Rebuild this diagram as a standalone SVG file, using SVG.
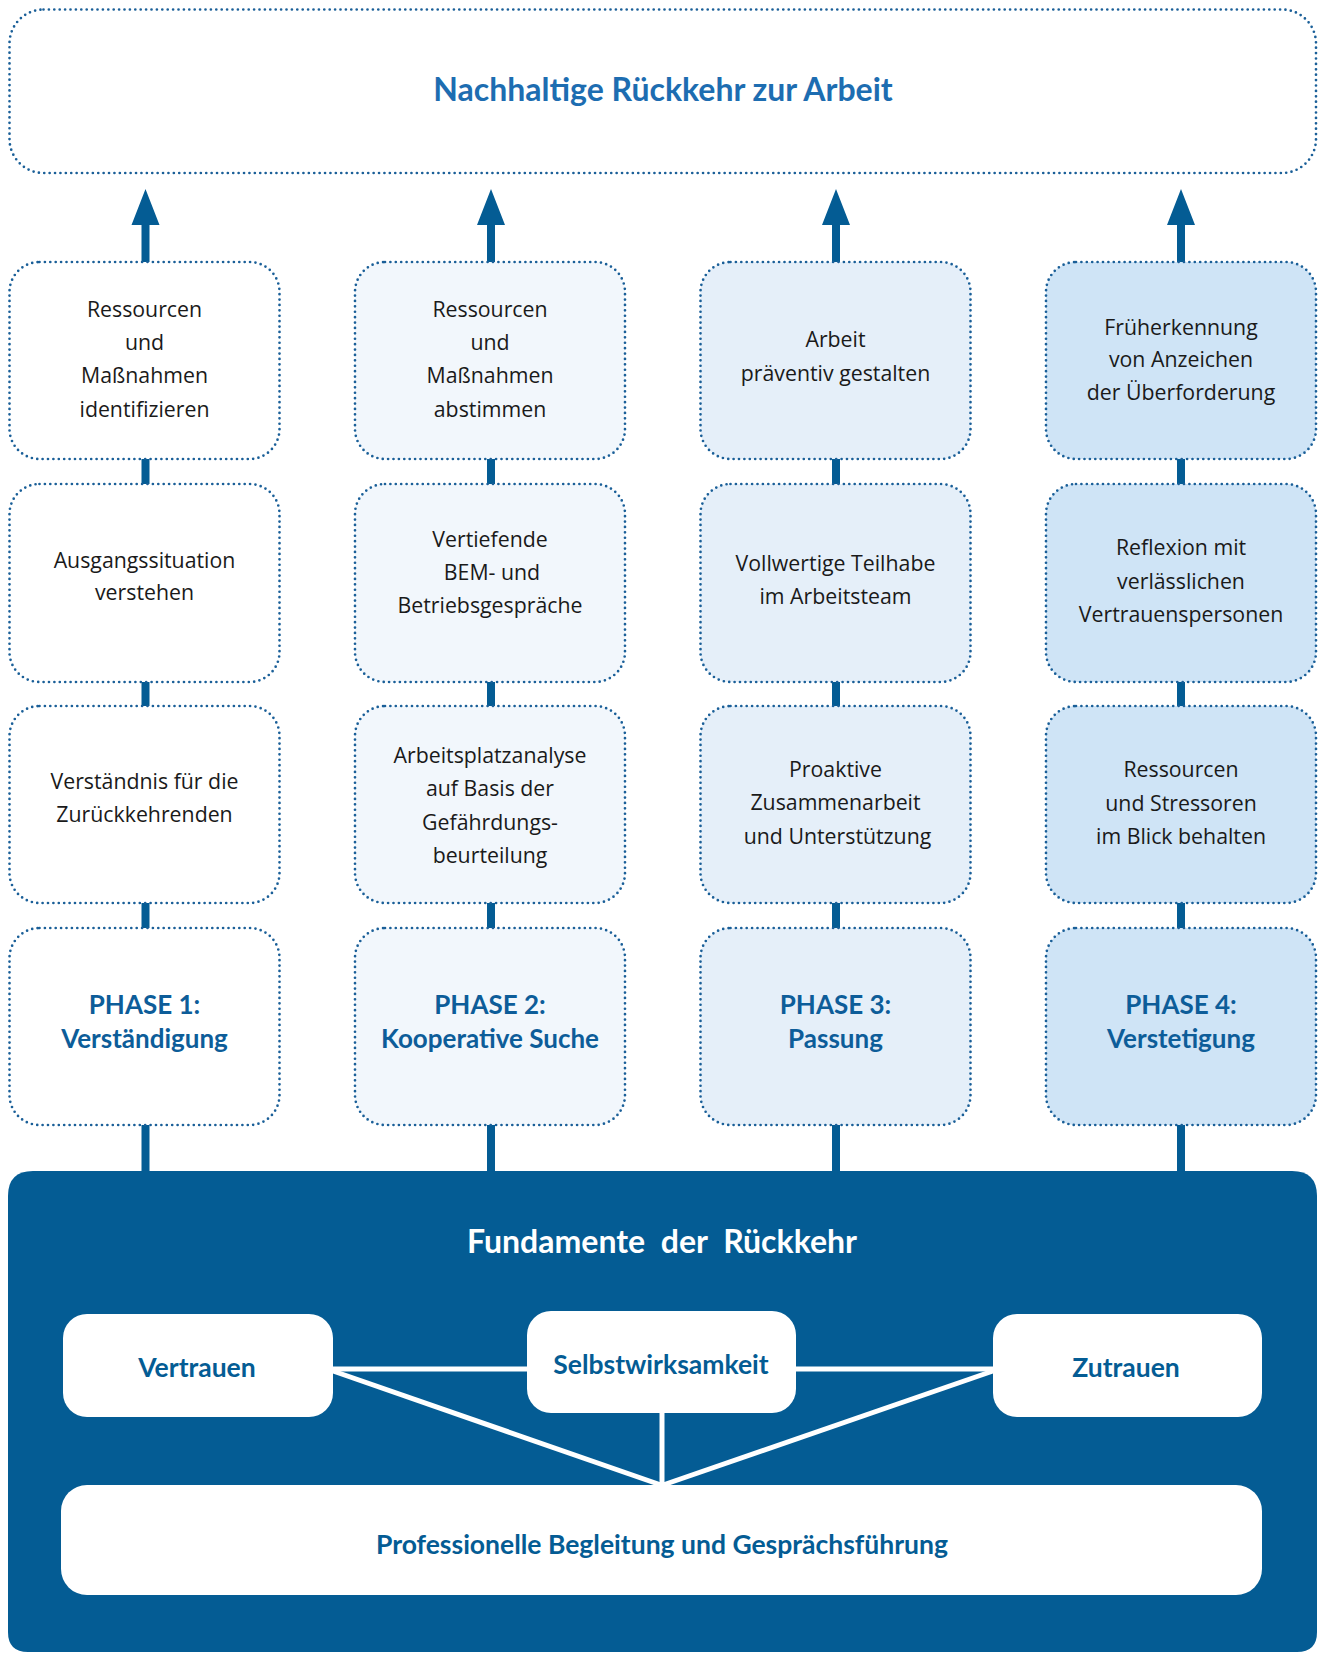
<svg xmlns="http://www.w3.org/2000/svg" width="1327" height="1653" viewBox="0 0 1327 1653">
<style>
.box{stroke:#1a5f98;stroke-width:2.7;stroke-dasharray:0 5.4;stroke-linecap:round}
.c1{fill:#ffffff}.c2{fill:#f2f7fc}.c3{fill:#e5eff9}.c4{fill:#cfe4f6}
.t{font-family:"Open Sans","Noto Sans",sans-serif;font-size:21.3px;fill:#1a1a1a;text-anchor:middle}
.ph{font-family:Lato,"Open Sans",sans-serif;font-weight:bold;font-size:26px;fill:#0d5d99;text-anchor:middle}
.bar{fill:#045c94}
.wb{fill:#ffffff}
.wl{stroke:#ffffff;stroke-width:5;fill:none}
.ft{font-family:Lato,"Open Sans",sans-serif;font-weight:bold;font-size:26.5px;fill:#045c94;text-anchor:middle}
</style>
<g id="connectors">
  <g id="arrows">
    <path class="bar" d="M141.5 262 V225 H131.5 L145.5 189 L159.5 225 H149.5 V262 Z"/>
    <path class="bar" d="M487 262 V225 H477 L491 189 L505 225 H495 V262 Z"/>
    <path class="bar" d="M832 262 V225 H822 L836 189 L850 225 H840 V262 Z"/>
    <path class="bar" d="M1177 262 V225 H1167 L1181 189 L1195 225 H1185 V262 Z"/>
  </g>
  <g id="links">
    <rect class="bar" x="141.5" y="455" width="8" height="33"/>
    <rect class="bar" x="141.5" y="678" width="8" height="32"/>
    <rect class="bar" x="141.5" y="899" width="8" height="33"/>
    <rect class="bar" x="141.5" y="1121" width="8" height="54"/>
    <rect class="bar" x="487" y="455" width="8" height="33"/>
    <rect class="bar" x="487" y="678" width="8" height="32"/>
    <rect class="bar" x="487" y="899" width="8" height="33"/>
    <rect class="bar" x="487" y="1121" width="8" height="54"/>
    <rect class="bar" x="832" y="455" width="8" height="33"/>
    <rect class="bar" x="832" y="678" width="8" height="32"/>
    <rect class="bar" x="832" y="899" width="8" height="33"/>
    <rect class="bar" x="832" y="1121" width="8" height="54"/>
    <rect class="bar" x="1177" y="455" width="8" height="33"/>
    <rect class="bar" x="1177" y="678" width="8" height="32"/>
    <rect class="bar" x="1177" y="899" width="8" height="33"/>
    <rect class="bar" x="1177" y="1121" width="8" height="54"/>
  </g>
</g>
<g id="goal">
  <rect class="box c1" x="9.5" y="9.5" width="1306.5" height="163.5" rx="34"/>
  <text x="663" y="101" style="font-family:Lato,'Open Sans',sans-serif;font-weight:bold;font-size:32px;fill:#1d6db1;text-anchor:middle">Nachhaltige Rückkehr zur Arbeit</text>
</g>
<g id="col1">
  <g id="p1-b1"><rect class="box c1" x="9.5" y="262" width="270" height="197" rx="30"/>
    <text class="t" x="144.5" y="317">Ressourcen</text><text class="t" x="144.5" y="350">und</text><text class="t" x="144.5" y="383">Maßnahmen</text><text class="t" x="144.5" y="417">identifizieren</text></g>
  <g id="p1-b2"><rect class="box c1" x="9.5" y="484" width="270" height="198" rx="30"/>
    <text class="t" x="144.5" y="568">Ausgangssituation</text><text class="t" x="144.5" y="600">verstehen</text></g>
  <g id="p1-b3"><rect class="box c1" x="9.5" y="706" width="270" height="197" rx="30"/>
    <text class="t" x="144.5" y="789">Verständnis für die</text><text class="t" x="144.5" y="822">Zurückkehrenden</text></g>
  <g id="p1"><rect class="box c1" x="9.5" y="928" width="270" height="197" rx="30"/>
    <text class="ph" x="144.5" y="1014">PHASE 1:</text><text class="ph" x="144.5" y="1048">Verständigung</text></g>
</g>
<g id="col2">
  <g id="p2-b1"><rect class="box c2" x="355" y="262" width="270" height="197" rx="30"/>
    <text class="t" x="490" y="317">Ressourcen</text><text class="t" x="490" y="350">und</text><text class="t" x="490" y="383">Maßnahmen</text><text class="t" x="490" y="417">abstimmen</text></g>
  <g id="p2-b2"><rect class="box c2" x="355" y="484" width="270" height="198" rx="30"/>
    <text class="t" x="490" y="547">Vertiefende</text><text class="t" x="492" y="580">BEM- und</text><text class="t" x="490" y="613">Betriebsgespräche</text></g>
  <g id="p2-b3"><rect class="box c2" x="355" y="706" width="270" height="197" rx="30"/>
    <text class="t" x="490" y="763">Arbeitsplatzanalyse</text><text class="t" x="490" y="796">auf Basis der</text><text class="t" x="490" y="830">Gefährdungs-</text><text class="t" x="490" y="863">beurteilung</text></g>
  <g id="p2"><rect class="box c2" x="355" y="928" width="270" height="197" rx="30"/>
    <text class="ph" x="490" y="1014">PHASE 2:</text><text class="ph" x="490" y="1048">Kooperative Suche</text></g>
</g>
<g id="col3">
  <g id="p3-b1"><rect class="box c3" x="700.5" y="262" width="270" height="197" rx="30"/>
    <text class="t" x="835.5" y="347">Arbeit</text><text class="t" x="835.5" y="381">präventiv gestalten</text></g>
  <g id="p3-b2"><rect class="box c3" x="700.5" y="484" width="270" height="198" rx="30"/>
    <text class="t" x="835.5" y="571">Vollwertige Teilhabe</text><text class="t" x="835.5" y="604">im Arbeitsteam</text></g>
  <g id="p3-b3"><rect class="box c3" x="700.5" y="706" width="270" height="197" rx="30"/>
    <text class="t" x="835.5" y="777">Proaktive</text><text class="t" x="835.5" y="810">Zusammenarbeit</text><text class="t" x="837.5" y="844">und Unterstützung</text></g>
  <g id="p3"><rect class="box c3" x="700.5" y="928" width="270" height="197" rx="30"/>
    <text class="ph" x="835.5" y="1014">PHASE 3:</text><text class="ph" x="835.5" y="1048">Passung</text></g>
</g>
<g id="col4">
  <g id="p4-b1"><rect class="box c4" x="1046" y="262" width="270" height="197" rx="30"/>
    <text class="t" x="1181" y="335">Früherkennung</text><text class="t" x="1181" y="367">von Anzeichen</text><text class="t" x="1181" y="400">der Überforderung</text></g>
  <g id="p4-b2"><rect class="box c4" x="1046" y="484" width="270" height="198" rx="30"/>
    <text class="t" x="1181" y="555">Reflexion mit</text><text class="t" x="1181" y="589">verlässlichen</text><text class="t" x="1181" y="622">Vertrauenspersonen</text></g>
  <g id="p4-b3"><rect class="box c4" x="1046" y="706" width="270" height="197" rx="30"/>
    <text class="t" x="1181" y="777">Ressourcen</text><text class="t" x="1181" y="811">und Stressoren</text><text class="t" x="1181" y="844">im Blick behalten</text></g>
  <g id="p4"><rect class="box c4" x="1046" y="928" width="270" height="197" rx="30"/>
    <text class="ph" x="1181" y="1014">PHASE 4:</text><text class="ph" x="1181" y="1048">Verstetigung</text></g>
</g>
<g id="foundation">
  <path class="bar" d="M8 1196 Q8 1171 33 1171 H1292 Q1317 1171 1317 1196 V1632 Q1317 1652 1297 1652 H28 Q8 1652 8 1632 Z"/>
  <text x="662" y="1253" style="font-family:Lato,'Open Sans',sans-serif;font-weight:bold;font-size:32px;fill:#ffffff;text-anchor:middle;word-spacing:8px">Fundamente der Rückkehr</text>
  <g id="foundation-links">
    <line class="wl" x1="333" y1="1369" x2="527" y2="1369"/>
    <line class="wl" x1="796" y1="1369" x2="993" y2="1369"/>
    <line class="wl" x1="333" y1="1371" x2="661" y2="1485"/>
    <line class="wl" x1="993" y1="1371" x2="663" y2="1485"/>
    <line class="wl" x1="662" y1="1413" x2="662" y2="1485"/>
  </g>
  <g id="vertrauen"><rect class="wb" x="63" y="1314" width="270" height="103" rx="24"/>
    <text class="ft" x="197" y="1377">Vertrauen</text></g>
  <g id="selbstwirksamkeit"><rect class="wb" x="527" y="1311" width="269" height="102" rx="24"/>
    <text class="ft" x="661" y="1374">Selbstwirksamkeit</text></g>
  <g id="zutrauen"><rect class="wb" x="993" y="1314" width="269" height="103" rx="24"/>
    <text class="ft" x="1126" y="1377">Zutrauen</text></g>
  <g id="begleitung"><rect class="wb" x="61" y="1485" width="1201" height="110" rx="26"/>
    <text class="ft" x="662" y="1554">Professionelle Begleitung und Gesprächsführung</text></g>
</g>
</svg>
